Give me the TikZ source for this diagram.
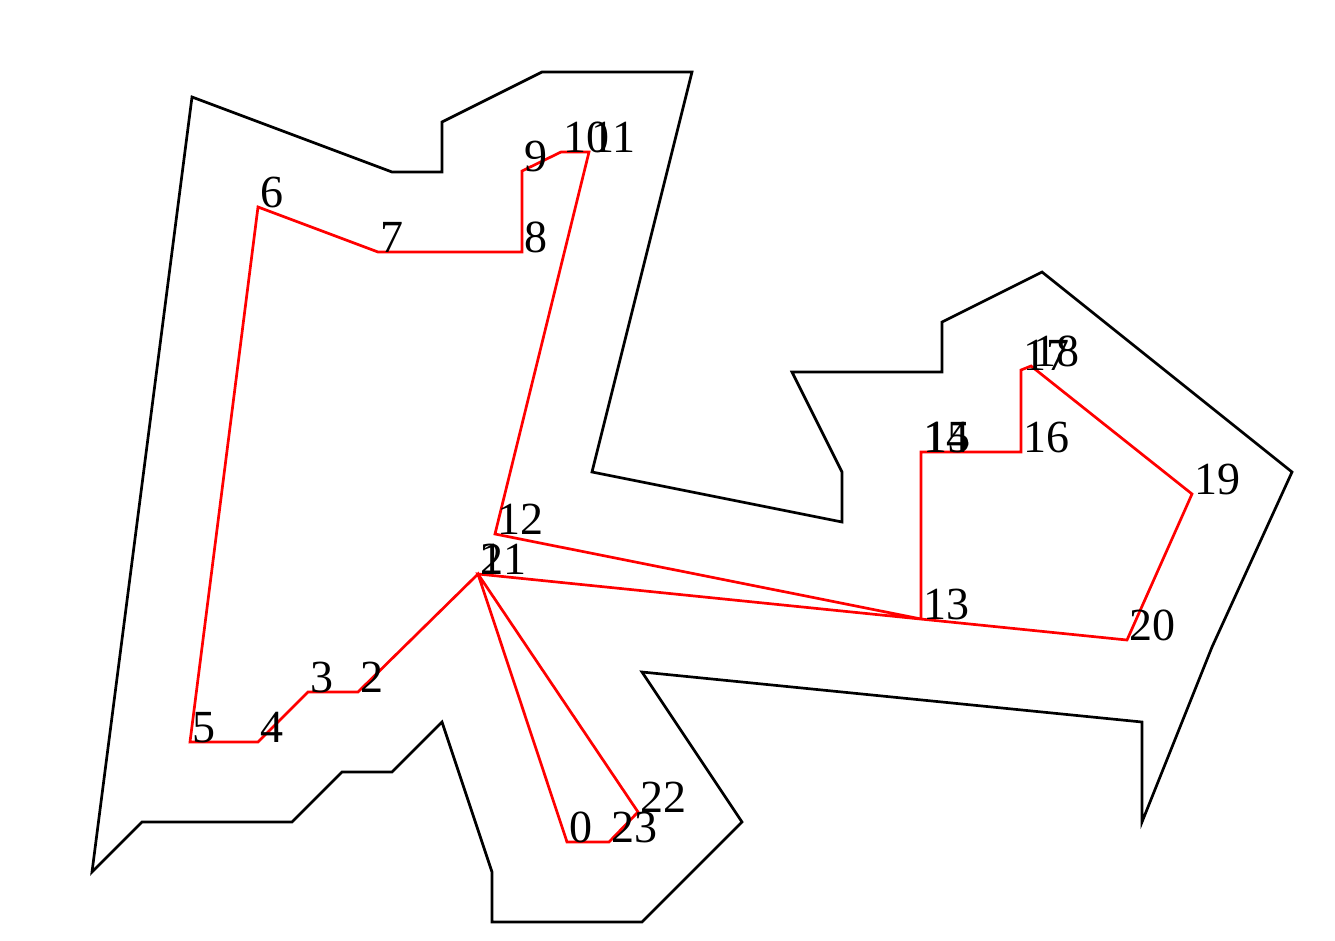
\documentclass[tikz,border=0pt]{standalone}
\usepackage{fontspec}
\setmainfont{Liberation Serif}
\begin{document}
\begin{tikzpicture}[x=1pt,y=-1pt,
  outer/.style={draw=black,line width=2.7pt,line join=miter},
  inner/.style={draw=red,line width=2.7pt,line join=miter},
  lbl/.style={anchor=base west,inner sep=0pt,xshift=2pt,font=\fontsize{46}{52}\selectfont}]
\useasboundingbox (0,0) rectangle (1335,940);
\draw[outer] (192,97) -- (392,172) -- (442,172) -- (442,122) -- (542,72) -- (692,72) -- (592,472) -- (842,522) -- (842,472) -- (792,372) -- (942,372) -- (942,322) -- (1042,272) -- (1292,472) -- (1212,647) -- (1142,822) -- (1142,722) -- (642,672) -- (742,822) -- (642,922) -- (492,922) -- (492,872) -- (442,722) -- (392,772) -- (342,772) -- (292,822) -- (142,822) -- (92,872) -- cycle;
\coordinate (p0) at (567,842);
\coordinate (p1) at (478,574);
\coordinate (p2) at (358,692);
\coordinate (p3) at (308,692);
\coordinate (p4) at (258,742);
\coordinate (p5) at (190,742);
\coordinate (p6) at (258,207);
\coordinate (p7) at (378,252);
\coordinate (p8) at (522,252);
\coordinate (p9) at (522,171);
\coordinate (p10) at (561,152);
\coordinate (p11) at (589,152);
\coordinate (p12) at (495,534);
\coordinate (p13) at (921,619);
\coordinate (p14) at (921,452);
\coordinate (p15) at (922,452);
\coordinate (p16) at (1021,452);
\coordinate (p17) at (1021,370);
\coordinate (p18) at (1031,366);
\coordinate (p19) at (1192,494);
\coordinate (p20) at (1127,640);
\coordinate (p21) at (478,574);
\coordinate (p22) at (638,812);
\coordinate (p23) at (609,842);
\draw[inner] (p0) -- (p1) -- (p2) -- (p3) -- (p4) -- (p5) -- (p6) -- (p7) -- (p8) -- (p9) -- (p10) -- (p11) -- (p12) -- (p13) -- (p14) -- (p15) -- (p16) -- (p17) -- (p18) -- (p19) -- (p20) -- (p21) -- (p22) -- (p23) -- cycle;
\foreach \i in {0,...,23} {
  \node[lbl] (l\i) at (p\i) {\i};
}
\end{tikzpicture}
\end{document}
